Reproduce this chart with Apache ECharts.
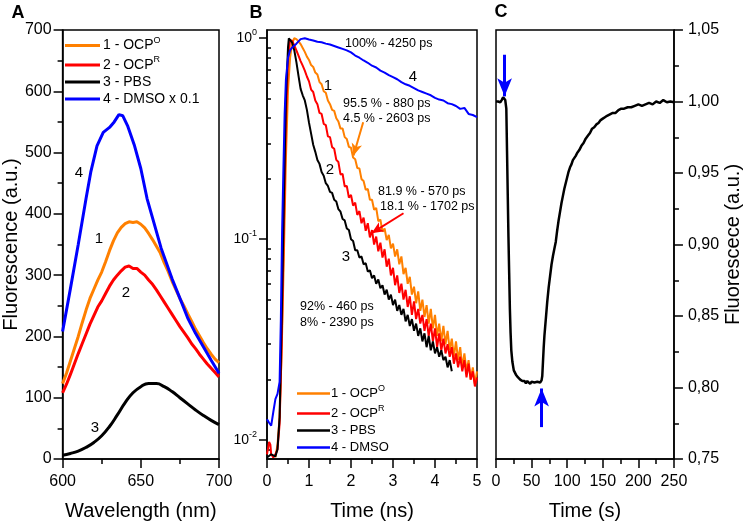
<!DOCTYPE html>
<html>
<head>
<meta charset="utf-8">
<script src="https://cdn.jsdelivr.net/npm/echarts@6.0.0/dist/echarts.min.js"></script>
<style>
html, body { margin: 0; padding: 0; background: #fff; }
#main { width: 744px; height: 526px; }
</style>
</head>
<body>
<div id="main"></div>
<script>
const FONT = '"Liberation Sans", Arial, sans-serif'
const ORANGE = '#ff8000'
const RED = '#ff0000'
const BLACK = '#000000'
const BLUE = '#0000ff'

// ---- panel A : emission spectra ----
const wlStep = [600, 602.5, 605, 607.5, 610, 612.5, 615, 617.5, 620, 622.5, 625, 627.5, 630, 632.5, 635, 637.5, 640, 642.5, 645, 647.5, 650, 652.5, 655, 657.5, 660, 662.5, 665, 667.5, 670, 672.5, 675, 677.5, 680, 682.5, 685, 687.5, 690, 692.5, 695, 697.5, 700]
const orangeA = [123, 140, 160, 180, 200, 222, 243, 262, 277, 292, 305, 322, 340, 356, 369, 378, 384, 387, 386, 387, 383, 377, 368, 358, 347, 336, 320, 306, 290, 276, 262, 250, 237, 225, 212, 201, 190, 180, 171, 163, 157]
const redA = [108, 122, 138, 155, 172, 188, 204, 220, 234, 248, 258, 270, 282, 292, 300, 307, 313, 315, 311, 311, 305, 300, 292, 285, 276, 266, 256, 246, 236, 226, 216, 207, 198, 188, 180, 171, 163, 155, 148, 141, 134]
const wlBlue = [600, 605, 610, 615, 618, 622, 626, 630, 633, 636, 638.5, 641.5, 646, 650, 654, 657, 663, 670, 676, 680, 685, 690, 695, 700]
const blueA = [208, 278, 350, 425, 468, 511, 533, 541, 550, 562, 560, 544, 511, 474, 425, 398, 344, 294, 256, 230, 205, 183, 161, 140]
const wl5 = [600, 605, 610, 615, 620, 625, 630, 635, 640, 645, 650, 655, 660, 665, 670, 675, 680, 685, 690, 695, 700]
const blackA = [6, 9, 13, 19, 27, 38, 53, 72, 92, 108, 118, 123, 123, 118, 110, 100, 90, 80, 71, 63, 56]

// ---- panel B : fluorescence decays (normalised) ----
const tTail = [1.00, 1.05, 1.10, 1.15, 1.20, 1.25, 1.30, 1.35, 1.40, 1.45, 1.50, 1.55, 1.60, 1.65, 1.70, 1.75, 1.80, 1.85, 1.90, 1.95,
    2.00, 2.05, 2.10, 2.15, 2.20, 2.25, 2.30, 2.35, 2.40, 2.45, 2.50, 2.55, 2.60, 2.65, 2.70, 2.75, 2.80, 2.85, 2.90, 2.95,
    3.00, 3.05, 3.10, 3.15, 3.20, 3.25, 3.30, 3.35, 3.40, 3.45, 3.50, 3.55, 3.60, 3.65, 3.70, 3.75, 3.80, 3.85, 3.90, 3.95,
    4.00, 4.05, 4.10, 4.15, 4.20, 4.25, 4.30, 4.35, 4.40, 4.45, 4.50, 4.55, 4.60, 4.65, 4.70, 4.75, 4.80, 4.85, 4.90, 4.95, 5.00]

const orangeEarlyT = [0.2, 0.25, 0.3, 0.35, 0.4, 0.45, 0.5, 0.55, 0.6, 0.65, 0.7, 0.75, 0.8, 0.85, 0.9, 0.95]
const orangeEarly = [0.0082, 0.0095, 0.013, 0.028, 0.08, 0.25, 0.55, 0.8, 0.95, 1.0, 0.99, 0.965, 0.935, 0.895, 0.855, 0.81]
const orangeTail = [0.78, 0.735, 0.72, 0.675, 0.66, 0.605, 0.59, 0.545, 0.535, 0.49,
    0.47, 0.44, 0.435, 0.4, 0.385, 0.355, 0.355, 0.322, 0.315, 0.288,
    0.285, 0.255, 0.25, 0.226, 0.225, 0.199, 0.195, 0.176, 0.178, 0.157,
    0.157, 0.14, 0.143, 0.123, 0.125, 0.109, 0.113, 0.099, 0.105, 0.09,
    0.095, 0.082, 0.089, 0.075, 0.082, 0.067, 0.072, 0.06, 0.065, 0.053,
    0.058, 0.048, 0.055, 0.044, 0.05, 0.041, 0.047, 0.038, 0.045, 0.036,
    0.042, 0.033, 0.038, 0.031, 0.037, 0.03, 0.035, 0.028, 0.032, 0.026,
    0.031, 0.025, 0.029, 0.023, 0.027, 0.022, 0.025, 0.02, 0.023, 0.019, 0.022]

const redEarlyT = [0, 0.05, 0.08, 0.1, 0.15, 0.2, 0.25, 0.3, 0.35, 0.4, 0.45, 0.5, 0.55, 0.57, 0.6, 0.65, 0.7, 0.75, 0.8, 0.85, 0.9, 0.95]
const redEarly = [0.0085, 0.0098, 0.0095, 0.0085, 0.0082, 0.0085, 0.009, 0.012, 0.03, 0.11, 0.38, 0.78, 0.98, 1.0, 0.97, 0.92, 0.87, 0.82, 0.77, 0.73, 0.69, 0.645]
const redTail = [0.61, 0.555, 0.54, 0.49, 0.47, 0.425, 0.42, 0.375, 0.37, 0.325,
    0.322, 0.287, 0.282, 0.248, 0.242, 0.21, 0.211, 0.183, 0.184, 0.161,
    0.166, 0.147, 0.152, 0.132, 0.138, 0.12, 0.128, 0.11, 0.12, 0.102,
    0.111, 0.094, 0.103, 0.087, 0.096, 0.081, 0.089, 0.073, 0.08, 0.066,
    0.072, 0.059, 0.066, 0.054, 0.06, 0.05, 0.056, 0.046, 0.052, 0.042,
    0.049, 0.04, 0.045, 0.038, 0.042, 0.035, 0.04, 0.033, 0.038, 0.031,
    0.036, 0.029, 0.034, 0.028, 0.032, 0.027, 0.03, 0.026, 0.029, 0.024,
    0.027, 0.023, 0.026, 0.022, 0.025, 0.0205, 0.024, 0.02, 0.022, 0.0185, 0.0205]

const blackEarlyT = [0, 0.1, 0.2, 0.25, 0.3, 0.35, 0.4, 0.45, 0.5, 0.52, 0.55, 0.6, 0.65, 0.7, 0.75, 0.8, 0.85, 0.9, 0.95]
const blackEarly = [0.0082, 0.0085, 0.0083, 0.009, 0.013, 0.04, 0.15, 0.5, 0.9, 1.0, 0.99, 0.95, 0.87, 0.76, 0.65, 0.56, 0.52, 0.49, 0.44]
const blackTail = [0.38, 0.335, 0.295, 0.272, 0.248, 0.237, 0.216, 0.207, 0.19, 0.184,
    0.172, 0.17, 0.157, 0.154, 0.141, 0.137, 0.126, 0.124, 0.113, 0.111,
    0.1, 0.098, 0.088, 0.088, 0.081, 0.082, 0.075, 0.076, 0.069, 0.07,
    0.064, 0.066, 0.06, 0.063, 0.057, 0.059, 0.053, 0.056, 0.05, 0.053,
    0.047, 0.05, 0.044, 0.047, 0.042, 0.045, 0.039, 0.042, 0.037, 0.04,
    0.035, 0.038, 0.033, 0.036, 0.031, 0.034, 0.029, 0.033, 0.028, 0.031,
    0.027, 0.029, 0.026, 0.028, 0.025, 0.026, 0.023, 0.025, 0.022]

const tBlue = [0, 0.05, 0.1, 0.15, 0.2, 0.25, 0.3, 0.33, 0.36, 0.39, 0.42, 0.45, 0.5, 0.55, 0.6, 0.7, 0.8, 0.9,
    1.0, 1.1, 1.2, 1.3, 1.4, 1.5, 1.6, 1.7, 1.8, 1.9, 2.0, 2.1, 2.2, 2.3, 2.4, 2.5, 2.6, 2.7, 2.8, 2.9,
    3.0, 3.1, 3.2, 3.3, 3.4, 3.5, 3.6, 3.7, 3.8, 3.9, 4.0, 4.1, 4.2, 4.3, 4.4, 4.5, 4.6, 4.7, 4.8, 4.9, 5.0]
const blueB = [0.0127, 0.0122, 0.0118, 0.0138, 0.016, 0.017, 0.0195, 0.04, 0.11, 0.22, 0.42, 0.62, 0.8, 0.87, 0.9, 0.94, 0.99, 1.0,
    0.985, 0.975, 0.96, 0.955, 0.94, 0.93, 0.915, 0.9, 0.885, 0.87, 0.85, 0.82, 0.8, 0.775, 0.755, 0.73, 0.715, 0.69, 0.675, 0.655,
    0.64, 0.625, 0.605, 0.59, 0.58, 0.565, 0.55, 0.54, 0.53, 0.52, 0.505, 0.495, 0.49, 0.475, 0.47, 0.46, 0.445, 0.45, 0.42, 0.415, 0.405]

const logTicks = [-2, -1, 0]
const notesB = ['100% - 4250 ps', '95.5 % - 880 ps', '4.5 % - 2603 ps', '81.9 % - 570 ps', '18.1 % - 1702 ps', '92% - 460 ps', '8% - 2390 ps']

// ---- panel C : fluorescence vs time ----
const tC = [0, 3, 6, 8, 10, 11, 12, 13, 14.5, 15.5, 16.5, 17.5, 18.5, 19.5, 20.5, 21.5, 23, 25, 28, 31, 34, 37, 40, 42, 44, 46, 48, 50, 52, 54, 56, 58, 60, 62, 63.5,
    64, 65, 66, 67, 68, 69, 70, 72, 74, 76, 78, 80, 82, 84, 86, 88, 90, 92, 94, 96, 98, 100, 102, 104, 106, 108, 110, 112, 114, 117,
    120, 123, 126, 129, 132, 135, 138, 141, 144, 147, 150, 153, 156, 160, 164, 168, 172, 176, 180, 185, 190, 195, 200, 205, 210, 215, 220, 225, 230, 235, 240, 245, 250]
const fluC = [1.0, 1.0, 0.9995, 1.001, 1.003, 1.0035, 1.002, 1.001, 0.995, 0.965, 0.935, 0.905, 0.88, 0.855, 0.838, 0.826, 0.818, 0.812, 0.809, 0.807,
    0.8055, 0.8045, 0.8045, 0.803, 0.8045, 0.8035, 0.8025, 0.804, 0.803, 0.8035, 0.8025, 0.804, 0.803, 0.8035, 0.8045,
    0.805, 0.808, 0.818, 0.828, 0.836, 0.842, 0.848, 0.86, 0.87, 0.878, 0.886, 0.892, 0.897, 0.902, 0.91,
    0.917, 0.923, 0.929, 0.934, 0.939, 0.943, 0.947, 0.951, 0.954, 0.956, 0.959, 0.96, 0.962, 0.964, 0.966,
    0.969, 0.971, 0.974, 0.976, 0.978, 0.981, 0.982, 0.984, 0.985, 0.987, 0.988, 0.989, 0.99, 0.991, 0.992,
    0.992, 0.994, 0.995, 0.995, 0.996, 0.996, 0.997, 0.998, 0.997, 0.998, 0.999, 0.998, 1.0, 0.999, 1.001, 0.9995, 1.0, 0.9995]

// 把 x / y 两个数组拼成点
function pairs(xs, ys) {
    return ys.map((y, i) => [xs[i], y])
}
// 对数面板：y 取 log10
function logPairs(xs, ys) {
    return ys.map((y, i) => [xs[i], Math.log10(y)])
}

// 小刻度 2..9 (对数)
let minorLog = []
for (let d = -3; d <= -1; d++) {
    for (let k = 2; k <= 9; k++) {
        let v = Math.log10(k) + d
        if (v > -2.094 && v < 0.041) minorLog.push(v)
    }
}

function axis(extra) {
    return Object.assign({
        type: 'value',
        nameLocation: 'middle',
        nameTextStyle: { color: '#000', fontSize: 20, fontFamily: FONT },
        axisLine: { show: true, onZero: false, lineStyle: { color: '#000', width: 1.5 } },
        axisTick: { show: true, inside: false, length: 9, lineStyle: { color: '#000', width: 1.5 } },
        minorTick: { show: true, splitNumber: 2, length: 5, lineStyle: { color: '#000', width: 1.5 } },
        splitLine: { show: false },
        minorSplitLine: { show: false },
        axisLabel: { color: '#000', fontSize: 16, fontFamily: FONT, margin: 15 }
    }, extra)
}

function txt(text, x, y, size, align, weight) {
    return {
        type: 'text', x: x, y: y, silent: true,
        style: {
            text: text, fill: '#000',
            font: (weight || 'normal') + ' ' + size + 'px ' + FONT,
            textAlign: align || 'center', textVerticalAlign: 'middle'
        }
    }
}

const supRich = {
    s: { fontSize: 9, fontFamily: FONT, color: '#000', padding: [0, 0, 10, 0] }
}
function legendFmt(name) {
    return name.replace('OCPO', 'OCP{s|O}').replace('OCPR', 'OCP{s|R}')
}

let myChart = echarts.init(document.querySelector('#main'))

const option = {
    animation: false,
    backgroundColor: '#fff',
    grid: [
        { left: 58, top: 30, width: 161, height: 433, show: true, borderColor: '#000', borderWidth: 1.5, backgroundColor: 'transparent' },
        { left: 267, top: 30, width: 210, height: 433, show: true, borderColor: '#000', borderWidth: 1.5, backgroundColor: 'transparent' },
        { left: 496, top: 30, width: 180, height: 433, show: true, borderColor: '#000', borderWidth: 1.5, backgroundColor: 'transparent' }
    ],
    xAxis: [
        axis({ gridIndex: 0, min: 600, max: 700, interval: 50, name: 'Wavelength (nm)', nameGap: 42 }),
        axis({ gridIndex: 1, min: 0, max: 5, interval: 1, name: 'Time (ns)', nameGap: 42 }),
        axis({ gridIndex: 2, min: 0, max: 250, interval: 50, name: 'Time (s)', nameGap: 42 })
    ],
    yAxis: [
        axis({
            gridIndex: 0, min: 0, max: 700, interval: 100, name: 'Fluorescence (a.u.)', nameGap: 41,
            axisLabel: { color: '#000', fontSize: 16, fontFamily: FONT, margin: 11 }
        }),
        axis({
            gridIndex: 1, min: -2.094, max: 0.041,
            minorTick: { show: false },
            axisTick: { show: true, inside: false, length: 8, customValues: logTicks, lineStyle: { color: '#000', width: 1.5 } },
            axisLabel: {
                customValues: logTicks, margin: 10,
                formatter: v => '{b|10}{s|' + Math.round(v) + '}',
                rich: {
                    b: { fontSize: 14, fontFamily: FONT, color: '#000' },
                    s: { fontSize: 9, fontFamily: FONT, color: '#000', padding: [0, 0, 12, 0] }
                }
            }
        }),
        axis({
            gridIndex: 1, min: -2.094, max: 0.041,
            axisLine: { show: false },
            minorTick: { show: false },
            axisLabel: { show: false },
            axisTick: { show: true, inside: false, length: 4, customValues: minorLog, lineStyle: { color: '#000', width: 1.5 } }
        }),
        axis({
            gridIndex: 2, min: 0.75, max: 1.05, interval: 0.05, position: 'right',
            name: 'Fluorescece (a.u.)', nameGap: 48, nameRotate: 90,
            axisLabel: { color: '#000', fontSize: 16, fontFamily: FONT, margin: 14, formatter: v => v.toFixed(2).replace('.', ',') }
        })
    ],
    legend: [
        {
            data: ['1 - OCPO', '2 - OCPR', '3 - PBS', '4 - DMSO x 0.1'],
            left: 60, top: 31, orient: 'vertical', icon: 'rect', itemWidth: 35, itemHeight: 3, itemGap: 3,
            selectedMode: false, formatter: legendFmt,
            textStyle: { color: '#000', fontSize: 14, fontFamily: FONT, padding: [0, 0, 0, -2], rich: supRich }
        },
        {
            data: ['1 - OCPO', '2 - OCPR', '3 - PBS', '4 - DMSO'],
            left: 292, top: 379, orient: 'vertical', icon: 'rect', itemWidth: 33, itemHeight: 2.5, itemGap: 4,
            selectedMode: false, formatter: legendFmt,
            textStyle: { color: '#000', fontSize: 13, fontFamily: FONT, padding: [0, 0, 0, -4], rich: supRich }
        }
    ],
    series: [
        // A
        { name: '1 - OCPO', type: 'line', xAxisIndex: 0, yAxisIndex: 0, symbol: 'none', data: pairs(wlStep, orangeA), lineStyle: { width: 3, color: ORANGE }, itemStyle: { color: ORANGE } },
        { name: '2 - OCPR', type: 'line', xAxisIndex: 0, yAxisIndex: 0, symbol: 'none', data: pairs(wlStep, redA), lineStyle: { width: 3, color: RED }, itemStyle: { color: RED } },
        { name: '3 - PBS', type: 'line', xAxisIndex: 0, yAxisIndex: 0, symbol: 'none', smooth: true, data: pairs(wl5, blackA), lineStyle: { width: 3, color: BLACK }, itemStyle: { color: BLACK } },
        { name: '4 - DMSO x 0.1', type: 'line', xAxisIndex: 0, yAxisIndex: 0, symbol: 'none', data: pairs(wlBlue, blueA), lineStyle: { width: 3, color: BLUE }, itemStyle: { color: BLUE } },
        // B
        {
            name: '1 - OCPO', type: 'line', xAxisIndex: 1, yAxisIndex: 1, symbol: 'none',
            data: logPairs(orangeEarlyT, orangeEarly).concat(logPairs(tTail, orangeTail)),
            lineStyle: { width: 2, color: ORANGE }, itemStyle: { color: ORANGE },
            markLine: {
                silent: true, symbol: ['none', 'arrow'], symbolSize: [8, 12], label: { show: false },
                lineStyle: { color: ORANGE, width: 2, type: 'solid' },
                data: [[{ coord: [2.29, -0.418] }, { coord: [2.06, -0.584] }]]
            }
        },
        {
            name: '2 - OCPR', type: 'line', xAxisIndex: 1, yAxisIndex: 1, symbol: 'none',
            data: logPairs(redEarlyT, redEarly).concat(logPairs(tTail, redTail)),
            lineStyle: { width: 2, color: RED }, itemStyle: { color: RED },
            markLine: {
                silent: true, symbol: ['none', 'arrow'], symbolSize: [8, 12], label: { show: false },
                lineStyle: { color: RED, width: 2, type: 'solid' },
                data: [[{ coord: [3.25, -0.871] }, { coord: [2.49, -0.97] }]]
            }
        },
        {
            name: '3 - PBS', type: 'line', xAxisIndex: 1, yAxisIndex: 1, symbol: 'none',
            data: logPairs(blackEarlyT, blackEarly).concat(logPairs(tTail, blackTail)),
            lineStyle: { width: 2, color: BLACK }, itemStyle: { color: BLACK }
        },
        {
            name: '4 - DMSO', type: 'line', xAxisIndex: 1, yAxisIndex: 1, symbol: 'none',
            data: logPairs(tBlue, blueB),
            lineStyle: { width: 2, color: BLUE }, itemStyle: { color: BLUE }
        },
        // C
        {
            name: 'C', type: 'line', xAxisIndex: 2, yAxisIndex: 3, symbol: 'none',
            data: pairs(tC, fluC),
            lineStyle: { width: 2.5, color: BLACK },
            markLine: {
                silent: true, symbol: ['none', 'arrow'], symbolSize: [11, 18], label: { show: false },
                lineStyle: { color: BLUE, width: 3, type: 'solid' },
                data: [
                    [{ coord: [12.1, 1.0327] }, { coord: [12.1, 1.0036] }],
                    [{ coord: [64.1, 0.7723] }, { coord: [64.1, 0.7993] }]
                ]
            }
        }
    ],
    graphic: [
        txt('A', 18, 13, 18, 'center', 'bold'),
        txt('B', 256, 13, 18, 'center', 'bold'),
        txt('C', 501, 12, 18, 'center', 'bold'),
        // curve numbers A
        txt('4', 79, 173, 15),
        txt('1', 99, 239, 15),
        txt('2', 126, 293, 15),
        txt('3', 95, 428, 15),
        // curve numbers B
        txt('4', 413, 77, 15),
        txt('1', 328, 86, 15),
        txt('2', 330, 170, 15),
        txt('3', 346, 257, 15),
        // lifetimes
        txt(notesB[0], 345, 44, 12.5, 'left'),
        txt(notesB[1], 343, 104, 12.5, 'left'),
        txt(notesB[2], 343, 119, 12.5, 'left'),
        txt(notesB[3], 378, 192, 12.5, 'left'),
        txt(notesB[4], 380, 207, 12.5, 'left'),
        txt(notesB[5], 300, 307, 12.5, 'left'),
        txt(notesB[6], 300, 323, 12.5, 'left')
    ]
}

myChart.setOption(option)
</script>
</body>
</html>
